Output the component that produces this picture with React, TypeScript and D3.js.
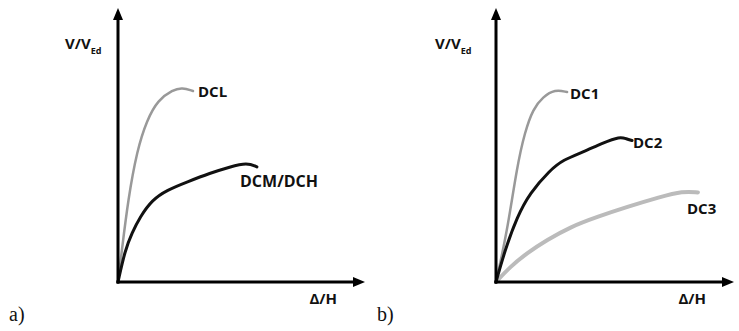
import React from "react";
import * as d3 from "d3";

type Pt = [number, number];

// Panel a) curves (x: drift Δ/H, y: V/V_Ed, arbitrary units 0..100)
const dclCurve: Pt[] = [[0,0],[1.6,11.9],[4.1,30.5],[7.8,49.1],[11.8,60.2],[16.3,67.7],[22.4,71.4],[26.1,72.3],[30.6,71.0]];
const dcmCurve: Pt[] = [[0,0],[2.9,11.9],[5.7,18.2],[9.0,24.2],[13.9,30.5],[20.0,34.2],[28.2,37.2],[37.6,40.5],[45.7,42.8],[52.7,44.4],[56.7,42.8]];

// Panel b) curves
const dc1Curve: Pt[] = [[0,0],[4.6,18.2],[8.9,43.1],[12.2,55.8],[15.6,64.3],[19.8,68.8],[24.9,71.6],[30.0,70.6]];
const dc2Curve: Pt[] = [[0,0],[3.8,11.9],[8.9,24.2],[14.3,33.1],[22.8,41.6],[28.3,45.4],[36.7,48.3],[45.1,51.7],[52.3,54.1],[55.0,53.2],[57.4,52.6]];
const dc3Curve: Pt[] = [[0,0],[5.9,5.6],[13.1,10.8],[21.5,15.6],[31.2,20.4],[42.6,24.2],[55.3,27.9],[69.2,31.6],[78.9,33.8],[85.2,33.3]];

const panelLabels = ["a)", "b)"];
const yAxisTitle = ["V/V", "Ed"];
const xAxisTitle = "Δ/H";

const FONT = "'Open Sans', sans-serif";

function Axes({ x, y, titleX }: { x: d3.ScaleLinear<number, number>; y: d3.ScaleLinear<number, number>; titleX: number }) {
  const x0 = x(0), y0 = y(0);
  const xEnd = x.range()[1];
  const yEnd = y.range()[1];
  return (
    <g>
      <line x1={x0} y1={y0 + 1.5} x2={x0} y2={yEnd + 8} stroke="#000" strokeWidth={3} />
      <path d={`M${x0},${yEnd} L${x0 - 5},${yEnd + 12} L${x0 + 5},${yEnd + 12} Z`} fill="#000" />
      <line x1={x0 - 1.5} y1={y0} x2={xEnd - 8} y2={y0} stroke="#000" strokeWidth={3} />
      <path d={`M${xEnd},${y0} L${xEnd - 12},${y0 - 5} L${xEnd - 12},${y0 + 5} Z`} fill="#000" />
      <text x={titleX} y={49} fontFamily={FONT} fontWeight={700} fontSize={15} fill="#111">
        {yAxisTitle[0]}
        <tspan fontSize={9} dy={5}>{yAxisTitle[1]}</tspan>
      </text>
      <text x={xEnd - 28} y={304} textAnchor="end" fontFamily={FONT} fontWeight={700} fontSize={15} fill="#111">
        {xAxisTitle}
      </text>
    </g>
  );
}

export default function App() {
  const yScale = d3.scaleLinear().domain([0, 100]).range([282, 8]);
  const xA = d3.scaleLinear().domain([0, 100]).range([118, 365]);
  const xB = d3.scaleLinear().domain([0, 100]).range([496, 734]);
  const yData = d3.scaleLinear().domain([0, 100]).range([282, 13]);

  const mkLine = (xs: d3.ScaleLinear<number, number>) =>
    d3.line<Pt>().x((d) => xs(d[0])).y((d) => yData(d[1])).curve(d3.curveBasis);
  const lineA = mkLine(d3.scaleLinear().domain([0, 100]).range([118, 363]));
  const lineB = mkLine(d3.scaleLinear().domain([0, 100]).range([496, 733]));

  const lbl = { fontFamily: FONT, fontWeight: 700, fontSize: 15, fill: "#111" } as const;

  return (
    <svg width={739} height={331} style={{ position: "absolute", left: 0, top: 0, background: "#fff" }}>
      {/* Panel a */}
      <path d={lineA(dclCurve) || ""} fill="none" stroke="#999" strokeWidth={2.5} strokeLinecap="round" />
      <path d={lineA(dcmCurve) || ""} fill="none" stroke="#111" strokeWidth={3} strokeLinecap="round" />
      <Axes x={xA} y={yScale} titleX={65} />
      <text x={198} y={97} {...lbl}>DCL</text>
      <text x={240} y={187} {...lbl} fontSize={16}>DCM/DCH</text>
      <text x={9} y={321} fontFamily="'Liberation Serif', 'Times New Roman', serif" fontSize={20} fill="#111">{panelLabels[0]}</text>

      {/* Panel b */}
      <path d={lineB(dc3Curve) || ""} fill="none" stroke="#bbb" strokeWidth={4} strokeLinecap="round" />
      <path d={lineB(dc1Curve) || ""} fill="none" stroke="#999" strokeWidth={2.5} strokeLinecap="round" />
      <path d={lineB(dc2Curve) || ""} fill="none" stroke="#111" strokeWidth={3} strokeLinecap="round" />
      <Axes x={xB} y={yScale} titleX={435} />
      <text x={570} y={99} {...lbl}>DC1</text>
      <text x={633} y={148} {...lbl}>DC2</text>
      <text x={687} y={214} {...lbl}>DC3</text>
      <text x={377} y={321} fontFamily="'Liberation Serif', 'Times New Roman', serif" fontSize={20} fill="#111">{panelLabels[1]}</text>
    </svg>
  );
}
